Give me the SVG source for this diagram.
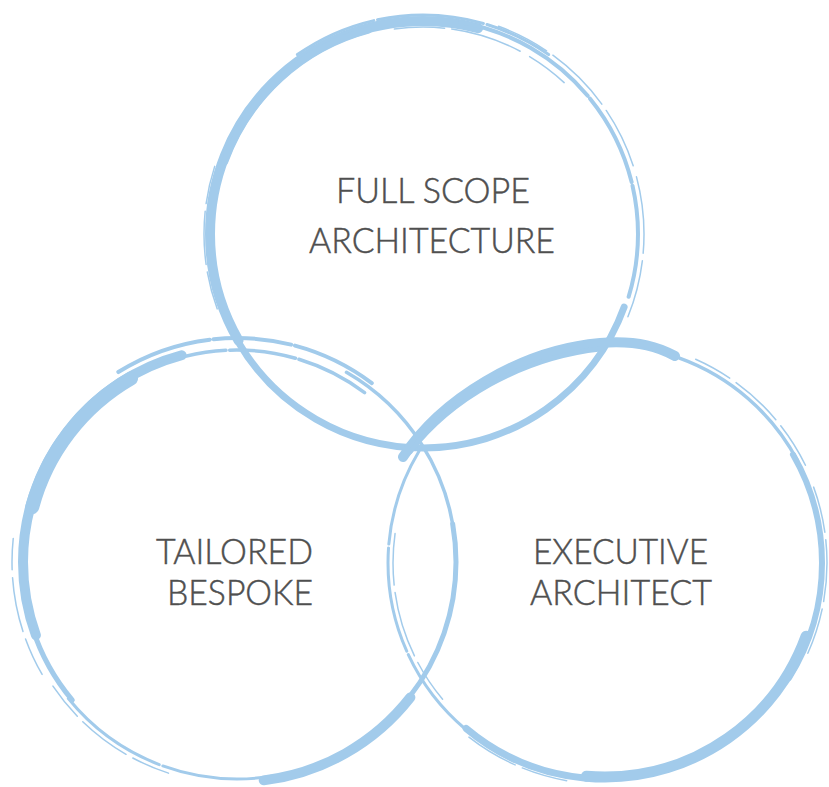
<svg xmlns="http://www.w3.org/2000/svg" width="829" height="787" viewBox="0 0 829 787">
<style>
.b{fill:none;stroke:#a2cbeb;stroke-linecap:round}
.t{font-family:Lato,"Open Sans","Liberation Sans",sans-serif;font-size:36px;font-weight:300;fill:#4f4f4f;stroke:#4f4f4f;stroke-width:0.5}
</style>
<rect width="829" height="787" fill="#ffffff"/>
<g id="circle-top">
<circle class="b" cx="423" cy="234" r="213" pathLength="360" stroke-width="10" stroke-dasharray="135 225" stroke-dashoffset="-150"/>
<circle class="b" cx="423" cy="234" r="211" pathLength="360" stroke-width="7" stroke-dasharray="55 305" stroke-dashoffset="-200"/>
<circle class="b" cx="423" cy="234" r="214" pathLength="360" stroke-width="7" stroke-dasharray="130 230" stroke-dashoffset="-20"/>
<circle class="b" cx="423" cy="234" r="215" pathLength="360" stroke-width="4" stroke-dasharray="40 1 25 1 30 263" stroke-dashoffset="-280"/>
<circle class="b" cx="423" cy="234" r="221" pathLength="360" stroke-width="1.5" stroke-dasharray="14 2 18 2 16 3 20 2 15 268" stroke-dashoffset="-290"/>
<circle class="b" cx="423" cy="234" r="219" pathLength="360" stroke-width="3" stroke-dasharray="22 1 28 1 18 290" stroke-dashoffset="-235"/>
<circle class="b" cx="423" cy="234" r="207" pathLength="360" stroke-width="1.5" stroke-dasharray="14 2 20 3 12 309" stroke-dashoffset="-262"/>
<circle class="b" cx="423" cy="234" r="219" pathLength="360" stroke-width="1.5" stroke-dasharray="10 2 14 2 10 322" stroke-dashoffset="-160"/>
</g>
<g id="circle-left">
<circle class="b" cx="237" cy="562" r="214" pathLength="360" stroke-width="10" stroke-dasharray="95 265" stroke-dashoffset="-160"/>
<circle class="b" cx="237" cy="562" r="212" pathLength="360" stroke-width="14" stroke-dasharray="45 315" stroke-dashoffset="-195"/>
<circle class="b" cx="237" cy="562" r="215" pathLength="360" stroke-width="5" stroke-dasharray="22 338" stroke-dashoffset="-140"/>
<circle class="b" cx="237" cy="562" r="217" pathLength="360" stroke-width="3" stroke-dasharray="30 1 30 299" stroke-dashoffset="-80"/>
<circle class="b" cx="237" cy="562" r="222" pathLength="360" stroke-width="1.5" stroke-dasharray="10 2 14 2 10 322" stroke-dashoffset="-108"/>
<circle class="b" cx="237" cy="562" r="220" pathLength="360" stroke-width="10" stroke-dasharray="45 315" stroke-dashoffset="-38"/>
<circle class="b" cx="237" cy="562" r="219" pathLength="360" stroke-width="5" stroke-dasharray="48 312" stroke-dashoffset="-350"/>
<circle class="b" cx="237" cy="562" r="224" pathLength="360" stroke-width="4" stroke-dasharray="25 1 20 1 22 291" stroke-dashoffset="-238"/>
<circle class="b" cx="237" cy="562" r="212" pathLength="360" stroke-width="3.5" stroke-dasharray="22 1 18 1 20 298" stroke-dashoffset="-245"/>
<circle class="b" cx="237" cy="562" r="219" pathLength="360" stroke-width="3.5" stroke-dasharray="55 305" stroke-dashoffset="-300"/>
<circle class="b" cx="237" cy="562" r="225" pathLength="360" stroke-width="1.5" stroke-dasharray="10 2 14 2 8 324" stroke-dashoffset="-150"/>
</g>
<g id="circle-right">
<path class="b" d="M403,457 C440,400 520,350 600,343 C640,340 660,348 675,356" stroke-width="10"/>
<path class="b" d="M410,452 C450,400 520,358 600,349" stroke-width="5"/>
<circle class="b" cx="605" cy="563" r="218" pathLength="360" stroke-width="3.5" stroke-dasharray="42 318" stroke-dashoffset="-290"/>
<circle class="b" cx="605" cy="563" r="223" pathLength="360" stroke-width="1.5" stroke-dasharray="10 2 14 2 12 320" stroke-dashoffset="-294"/>
<circle class="b" cx="605" cy="563" r="217" pathLength="360" stroke-width="6" stroke-dasharray="62 298" stroke-dashoffset="-330"/>
<circle class="b" cx="605" cy="563" r="222" pathLength="360" stroke-width="1.5" stroke-dasharray="12 2 16 2 12 316" stroke-dashoffset="-340"/>
<circle class="b" cx="605" cy="563" r="214" pathLength="360" stroke-width="11" stroke-dasharray="75 285" stroke-dashoffset="-20"/>
<circle class="b" cx="605" cy="563" r="216" pathLength="360" stroke-width="7" stroke-dasharray="35 325" stroke-dashoffset="-95"/>
<circle class="b" cx="605" cy="563" r="217" pathLength="360" stroke-width="3" stroke-dasharray="25 1 28 1 26 279" stroke-dashoffset="-130"/>
<circle class="b" cx="605" cy="563" r="212" pathLength="360" stroke-width="1.5" stroke-dasharray="12 2 18 2 14 312" stroke-dashoffset="-140"/>
<circle class="b" cx="605" cy="563" r="221" pathLength="360" stroke-width="1.5" stroke-dasharray="12 2 14 332" stroke-dashoffset="-100"/>
</g>
<g id="labels">
<text class="t" x="336" y="203" textLength="194" lengthAdjust="spacingAndGlyphs">FULL SCOPE</text>
<text class="t" x="309" y="253" textLength="246" lengthAdjust="spacingAndGlyphs">ARCHITECTURE</text>
<text class="t" x="156" y="564" textLength="157" lengthAdjust="spacingAndGlyphs">TAILORED</text>
<text class="t" x="167" y="605" textLength="146" lengthAdjust="spacingAndGlyphs">BESPOKE</text>
<text class="t" x="533" y="564" textLength="175" lengthAdjust="spacingAndGlyphs">EXECUTIVE</text>
<text class="t" x="530" y="605" textLength="182" lengthAdjust="spacingAndGlyphs">ARCHITECT</text>
</g>
</svg>
